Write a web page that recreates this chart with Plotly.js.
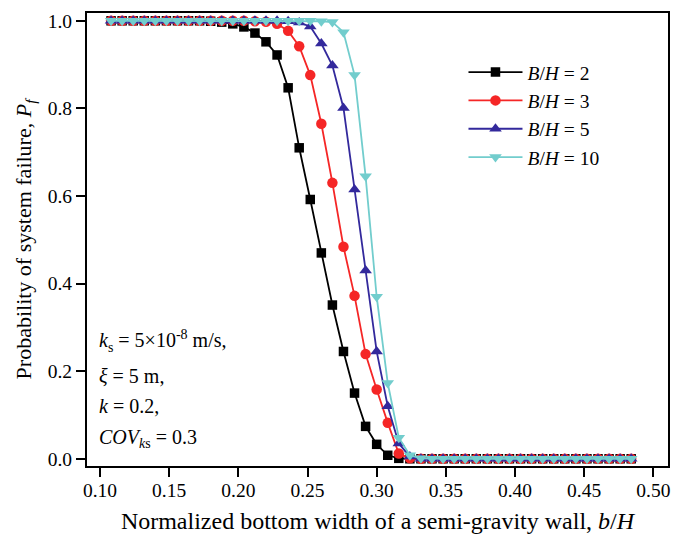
<!DOCTYPE html>
<html>
<head>
<meta charset="utf-8">
<script src="https://cdn.plot.ly/plotly-3.0.1.min.js"></script>
<style>html,body{margin:0;padding:0;background:#fff;}#chart{width:687px;height:537px;}</style>
</head>
<body>
<div id="chart"></div>
<script>
// Normalized bottom width b/H
const bH = [0.108,0.116,0.124,0.132,0.140,0.148,0.156,0.164,0.172,0.180,0.188,0.196,0.204,0.212,0.220,0.228,0.236,0.244,0.252,0.260,0.268,0.276,0.284,0.292,0.300,0.308,0.316,0.324,0.332,0.340,0.348,0.356,0.364,0.372,0.380,0.388,0.396,0.404,0.412,0.420,0.428,0.436,0.444,0.452,0.460,0.468,0.476,0.484];
// Probability of system failure
const pf_BH2  = [1,1,1,1,1,1,1,1,1,0.999,0.997,0.993,0.986,0.972,0.952,0.922,0.847,0.710,0.592,0.470,0.351,0.245,0.150,0.074,0.033,0.008,0.001,0,0,0,0,0,0,0,0,0,0,0,0,0,0,0,0,0,0,0,0,0];
const pf_BH3  = [1,1,1,1,1,1,1,1,1,1,1,1,1,0.999,0.998,0.993,0.977,0.942,0.876,0.765,0.630,0.484,0.372,0.239,0.158,0.082,0.012,0.001,0,0,0,0,0,0,0,0,0,0,0,0,0,0,0,0,0,0,0,0];
const pf_BH5  = [1,1,1,1,1,1,1,1,1,1,1,1,1,1,1,1,0.999,0.996,0.987,0.948,0.898,0.801,0.615,0.430,0.245,0.120,0.035,0.005,0,0,0,0,0,0,0,0,0,0,0,0,0,0,0,0,0,0,0,0];
const pf_BH10 = [1,1,1,1,1,1,1,1,1,1,1,1,1,1,1,1,1,1,1,0.999,0.997,0.974,0.876,0.645,0.370,0.173,0.048,0.008,0.001,0,0,0,0,0,0,0,0,0,0,0,0,0,0,0,0,0,0,0];
const seriesNames = ['<i>B</i>/<i>H</i> = 2','<i>B</i>/<i>H</i> = 3','<i>B</i>/<i>H</i> = 5','<i>B</i>/<i>H</i> = 10'];
const xTicks = [0.10,0.15,0.20,0.25,0.30,0.35,0.40,0.45,0.50];
const yTicks = [0.0,0.2,0.4,0.6,0.8,1.0];
const noteLines = ['<i>k</i><sub>s</sub> = 5×10<sup>-8</sup> m/s,','<i>ξ</i> = 5 m,','<i>k</i> = 0.2,','<i>COV</i><sub><i>k</i>s</sub> = 0.3'];
const noteY = [0.270,0.190,0.121,0.047];

const colors = ['#000000','#f52626','#33299c','#72cdcd'];
const symbols = ['square','circle','triangle-up','triangle-down'];
const sizes = [9.5,10.5,11,11];
const ys = [pf_BH2,pf_BH3,pf_BH5,pf_BH10];

const FONT = '"Liberation Serif", "Times New Roman", serif';
const traces = ys.map((y,i)=>({
  type:'scatter', mode:'lines+markers', x:bH, y:y, name:seriesNames[i],
  legendgroup:'g'+i,
  line:{color:colors[i], width:1.8},
  marker:{symbol:symbols[i], size:sizes[i], color:colors[i], line:{width:0}}
}));

const xr = [0.0906,0.5106], yr = [-0.0165,1.0178];
const layout = {
  width:687, height:537,
  margin:{l:87, r:19, t:13, b:71, pad:0},
  paper_bgcolor:'#fff', plot_bgcolor:'#fff',
  font:{family:FONT, size:19.5, color:'#000'},
  showlegend:true,
  legend:{x:0.648, y:0.912, xanchor:'left', yanchor:'top', bgcolor:'rgba(0,0,0,0)', itemwidth:54,
          font:{family:FONT, size:19.5, color:'#000'}, traceorder:'grouped', tracegroupgap:0},
  xaxis:{range:xr, tickvals:xTicks, ticktext:xTicks.map(v=>v.toFixed(2)),
         showline:true, linecolor:'#000', linewidth:2, mirror:true,
         ticks:'outside', ticklen:9, tickwidth:2, tickcolor:'#000', ticklabelstandoff:-3,
         showgrid:false, zeroline:false, automargin:false,
         tickfont:{family:FONT, size:19.5},
         title:{text:'Normalized bottom width of a semi-gravity wall, <i>b</i>/<i>H</i>', font:{family:FONT, size:24}, standoff:12}},
  yaxis:{range:yr, tickvals:yTicks, ticktext:yTicks.map(v=>v.toFixed(1)),
         showline:true, linecolor:'#000', linewidth:2, mirror:true,
         ticks:'outside', ticklen:9, tickwidth:2, tickcolor:'#000',
         showgrid:false, zeroline:false, automargin:false,
         tickfont:{family:FONT, size:19.5},
         title:{text:'Probability of system failure, <i>P<sub>f</sub></i>', font:{family:FONT, size:22}, standoff:10}},
  xaxis2:{range:xr, overlaying:'x', side:'top', anchor:'y', tickvals:xTicks, showticklabels:false,
          ticks:'inside', ticklen:8, tickwidth:2, tickcolor:'#000', showline:false, showgrid:false, zeroline:false},
  yaxis2:{range:yr, overlaying:'y', side:'right', anchor:'x', tickvals:yTicks, showticklabels:false,
          ticks:'inside', ticklen:8, tickwidth:2, tickcolor:'#000', showline:false, showgrid:false, zeroline:false},
  annotations: noteLines.map((t,i)=>({
    text:t, x:0.0981, y:noteY[i], xref:'x', yref:'y', xanchor:'left', yanchor:'middle',
    showarrow:false, font:{family:FONT, size:20, color:'#000'}
  }))
};
Plotly.newPlot('chart', traces, layout, {staticPlot:true, displayModeBar:false});
</script>
</body>
</html>
